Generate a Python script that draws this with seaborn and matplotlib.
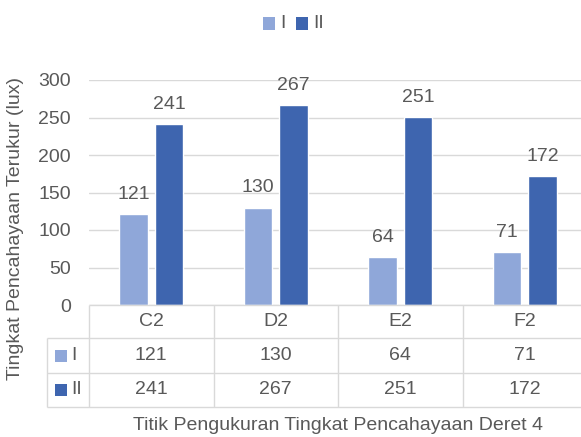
import matplotlib
matplotlib.use("Agg")
import matplotlib.pyplot as plt
import pandas as pd
import seaborn as sns
from matplotlib.patches import Rectangle
from matplotlib.transforms import blended_transform_factory

# Data
categories = ["C2", "D2", "E2", "F2"]
series_names = ["I", "II"]
values_i = [121, 130, 64, 71]
values_ii = [241, 267, 251, 172]
y_ticks = [0, 50, 100, 150, 200, 250, 300]
x_label = "Titik Pengukuran Tingkat Pencahayaan Deret 4"
y_label = "Tingkat Pencahayaan Terukur (lux)"

colors = ["#8FA7D9", "#3E65AF"]
text_color = "#595959"
grid_color = "#D9D9D9"

df = pd.DataFrame({
    "Titik": categories * 2,
    "Seri": [series_names[0]] * len(categories) + [series_names[1]] * len(categories),
    "Nilai": values_i + values_ii,
})

sns.set_style("white")
plt.rcParams["font.family"] = ["Liberation Sans", "DejaVu Sans"]
FS = 14

W, H = 581, 437
fig = plt.figure(figsize=(W / 100, H / 100), dpi=100)
AX_L, AX_R, AX_T, AX_B = 89, 587, 80, 305
ax = fig.add_axes([AX_L / W, 1 - AX_B / H, (AX_R - AX_L) / W, (AX_B - AX_T) / H])

sns.barplot(data=df, x="Titik", y="Nilai", hue="Seri", palette=colors,
            width=0.57, gap=0.21, saturation=1, errorbar=None,
            legend=False, ax=ax)

ax.set_xlim(-0.5, len(categories) - 0.5)
ax.set_ylim(0, 300)
ax.set_yticks(y_ticks)
ax.set_xticks([])
ax.set_xlabel("")
ax.set_ylabel("")
ax.yaxis.grid(True, color=grid_color, lw=1.0)
ax.set_axisbelow(True)
for s in ax.spines.values():
    s.set_visible(False)
ax.tick_params(axis="y", length=0, pad=13, labelsize=FS, labelcolor=text_color)

for cont in ax.containers:
    ax.bar_label(cont, padding=8, color=text_color, fontsize=FS)


def fy(py):
    return 1 - py / H


def fx_axes(px):
    return (px - AX_L) / (AX_R - AX_L)


tr_axes = blended_transform_factory(ax.transAxes, fig.transFigure)
tr_data = blended_transform_factory(ax.transData, fig.transFigure)
line_kw = dict(color=grid_color, lw=1.0, clip_on=False, solid_capstyle="butt")

# Data table grid
ax.plot([0, 1], [fy(AX_B), fy(AX_B)], transform=tr_axes, **line_kw)
for py in (338, 373, 407):
    ax.plot([fx_axes(47), 1], [fy(py), fy(py)], transform=tr_axes, **line_kw)
ax.plot([fx_axes(47), fx_axes(47)], [fy(338), fy(407)], transform=tr_axes, **line_kw)
for b in range(len(categories) + 1):
    xb = b - 0.5
    ax.plot([xb, xb], [fy(AX_B), fy(407)], transform=tr_data, **line_kw)

# Data table text
rows = [values_i, values_ii]
row_y = [355.5, 390]
for i, cat in enumerate(categories):
    ax.text(i, fy(321.5), cat, transform=tr_data, ha="center", va="center",
            fontsize=FS, color=text_color)
    for vals, py in zip(rows, row_y):
        ax.text(i, fy(py), str(vals[i]), transform=tr_data, ha="center",
                va="center", fontsize=FS, color=text_color)

# Legend keys inside the table
for name, col, py in zip(series_names, colors, row_y):
    fig.add_artist(Rectangle((55 / W, fy(py + 6)), 12 / W, 12 / H,
                             transform=fig.transFigure, color=col, lw=0))
    fig.text(71 / W, fy(py), name, ha="left", va="center", fontsize=FS,
             color=text_color)

# Top legend
for name, col, px in zip(series_names, colors, (263, 296)):
    fig.add_artist(Rectangle((px / W, fy(29.5)), 12 / W, 12 / H,
                             transform=fig.transFigure, color=col, lw=0))
    fig.text((px + 17) / W, fy(23.5), name, ha="left", va="center",
             fontsize=FS, color=text_color)

fig.text(338 / W, fy(425), x_label, ha="center", va="center", fontsize=FS,
         color=text_color)
fig.text(16 / W, fy(228), y_label, ha="center", va="center", rotation=90,
         fontsize=FS, color=text_color)

fig.savefig("out.png", dpi=100, facecolor="white")
